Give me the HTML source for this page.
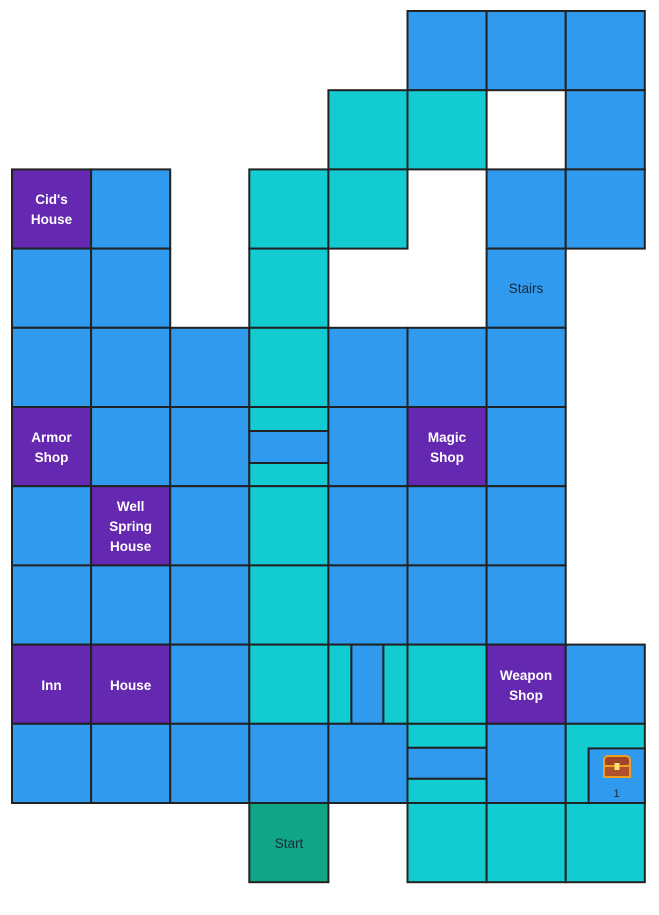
<!DOCTYPE html>
<html><head><meta charset="utf-8"><style>
html,body{margin:0;padding:0;background:#fff;width:659px;height:915px;overflow:hidden}
svg text{font-family:"Liberation Sans",sans-serif;font-size:13.5px;text-anchor:middle}
.l{fill:#fff;font-weight:bold}
.d{fill:#1a2a3a}
</style></head><body>
<svg width="659" height="915" viewBox="0 0 659 915" xmlns="http://www.w3.org/2000/svg">
<g stroke="#222" stroke-width="2">
<!-- row0 -->
<rect x="407.5" y="11" width="79.1" height="79.2" fill="#2f9aee"/>
<rect x="486.6" y="11" width="79.1" height="79.2" fill="#2f9aee"/>
<rect x="565.7" y="11" width="79.1" height="79.2" fill="#2f9aee"/>
<!-- row1 -->
<rect x="328.4" y="90.2" width="79.1" height="79.2" fill="#13ccd2"/>
<rect x="407.5" y="90.2" width="79.1" height="79.2" fill="#13ccd2"/>
<rect x="565.7" y="90.2" width="79.1" height="79.2" fill="#2f9aee"/>
<!-- row2 -->
<rect x="12" y="169.4" width="79.1" height="79.2" fill="#6528b0"/>
<rect x="91.1" y="169.4" width="79.1" height="79.2" fill="#2f9aee"/>
<rect x="249.3" y="169.4" width="79.1" height="79.2" fill="#13ccd2"/>
<rect x="328.4" y="169.4" width="79.1" height="79.2" fill="#13ccd2"/>
<rect x="486.6" y="169.4" width="79.1" height="79.2" fill="#2f9aee"/>
<rect x="565.7" y="169.4" width="79.1" height="79.2" fill="#2f9aee"/>
<!-- row3 -->
<rect x="12" y="248.6" width="79.1" height="79.2" fill="#2f9aee"/>
<rect x="91.1" y="248.6" width="79.1" height="79.2" fill="#2f9aee"/>
<rect x="249.3" y="248.6" width="79.1" height="79.2" fill="#13ccd2"/>
<rect x="486.6" y="248.6" width="79.1" height="79.2" fill="#2f9aee"/>
<!-- row4 -->
<rect x="12" y="327.8" width="79.1" height="79.2" fill="#2f9aee"/>
<rect x="91.1" y="327.8" width="79.1" height="79.2" fill="#2f9aee"/>
<rect x="170.2" y="327.8" width="79.1" height="79.2" fill="#2f9aee"/>
<rect x="249.3" y="327.8" width="79.1" height="79.2" fill="#13ccd2"/>
<rect x="328.4" y="327.8" width="79.1" height="79.2" fill="#2f9aee"/>
<rect x="407.5" y="327.8" width="79.1" height="79.2" fill="#2f9aee"/>
<rect x="486.6" y="327.8" width="79.1" height="79.2" fill="#2f9aee"/>
<!-- row5 -->
<rect x="12" y="407" width="79.1" height="79.2" fill="#6528b0"/>
<rect x="91.1" y="407" width="79.1" height="79.2" fill="#2f9aee"/>
<rect x="170.2" y="407" width="79.1" height="79.2" fill="#2f9aee"/>
<rect x="249.3" y="407" width="79.1" height="24" fill="#13ccd2"/>
<rect x="249.3" y="431" width="79.1" height="32" fill="#2f9aee"/>
<rect x="249.3" y="463" width="79.1" height="23.2" fill="#13ccd2"/>
<rect x="328.4" y="407" width="79.1" height="79.2" fill="#2f9aee"/>
<rect x="407.5" y="407" width="79.1" height="79.2" fill="#6528b0"/>
<rect x="486.6" y="407" width="79.1" height="79.2" fill="#2f9aee"/>
<!-- row6 -->
<rect x="12" y="486.2" width="79.1" height="79.2" fill="#2f9aee"/>
<rect x="91.1" y="486.2" width="79.1" height="79.2" fill="#6528b0"/>
<rect x="170.2" y="486.2" width="79.1" height="79.2" fill="#2f9aee"/>
<rect x="249.3" y="486.2" width="79.1" height="79.2" fill="#13ccd2"/>
<rect x="328.4" y="486.2" width="79.1" height="79.2" fill="#2f9aee"/>
<rect x="407.5" y="486.2" width="79.1" height="79.2" fill="#2f9aee"/>
<rect x="486.6" y="486.2" width="79.1" height="79.2" fill="#2f9aee"/>
<!-- row7 -->
<rect x="12" y="565.4" width="79.1" height="79.2" fill="#2f9aee"/>
<rect x="91.1" y="565.4" width="79.1" height="79.2" fill="#2f9aee"/>
<rect x="170.2" y="565.4" width="79.1" height="79.2" fill="#2f9aee"/>
<rect x="249.3" y="565.4" width="79.1" height="79.2" fill="#13ccd2"/>
<rect x="328.4" y="565.4" width="79.1" height="79.2" fill="#2f9aee"/>
<rect x="407.5" y="565.4" width="79.1" height="79.2" fill="#2f9aee"/>
<rect x="486.6" y="565.4" width="79.1" height="79.2" fill="#2f9aee"/>
<!-- row8 -->
<rect x="12" y="644.6" width="79.1" height="79.2" fill="#6528b0"/>
<rect x="91.1" y="644.6" width="79.1" height="79.2" fill="#6528b0"/>
<rect x="170.2" y="644.6" width="79.1" height="79.2" fill="#2f9aee"/>
<rect x="249.3" y="644.6" width="79.1" height="79.2" fill="#13ccd2"/>
<rect x="328.4" y="644.6" width="23" height="79.2" fill="#13ccd2"/>
<rect x="351.4" y="644.6" width="32" height="79.2" fill="#2f9aee"/>
<rect x="383.4" y="644.6" width="24.1" height="79.2" fill="#13ccd2"/>
<rect x="407.5" y="644.6" width="79.1" height="79.2" fill="#13ccd2"/>
<rect x="486.6" y="644.6" width="79.1" height="79.2" fill="#6528b0"/>
<rect x="565.7" y="644.6" width="79.1" height="79.2" fill="#2f9aee"/>
<!-- row9 -->
<rect x="12" y="723.8" width="79.1" height="79.2" fill="#2f9aee"/>
<rect x="91.1" y="723.8" width="79.1" height="79.2" fill="#2f9aee"/>
<rect x="170.2" y="723.8" width="79.1" height="79.2" fill="#2f9aee"/>
<rect x="249.3" y="723.8" width="79.1" height="79.2" fill="#2f9aee"/>
<rect x="328.4" y="723.8" width="79.1" height="79.2" fill="#2f9aee"/>
<rect x="407.5" y="723.8" width="79.1" height="24" fill="#13ccd2"/>
<rect x="407.5" y="747.8" width="79.1" height="31" fill="#2f9aee"/>
<rect x="407.5" y="778.8" width="79.1" height="24.2" fill="#13ccd2"/>
<rect x="486.6" y="723.8" width="79.1" height="79.2" fill="#2f9aee"/>
<rect x="565.7" y="723.8" width="79.1" height="79.2" fill="#13ccd2"/>
<rect x="588.6" y="748.4" width="56.2" height="54.6" fill="#2f9aee"/>
<!-- row10 -->
<rect x="249.3" y="803" width="79.1" height="79.2" fill="#10a585"/>
<rect x="407.5" y="803" width="79.1" height="79.2" fill="#13ccd2"/>
<rect x="486.6" y="803" width="79.1" height="79.2" fill="#13ccd2"/>
<rect x="565.7" y="803" width="79.1" height="79.2" fill="#13ccd2"/>
</g>
<!-- chest -->
<g>
<rect x="604" y="756" width="26" height="11" rx="4" fill="#a0442a" stroke="#f0a020" stroke-width="2"/>
<rect x="604" y="766" width="26" height="11" fill="#b0502e" stroke="#f0a020" stroke-width="2"/>
<rect x="614.5" y="763" width="5" height="7" fill="#ffe070"/>
</g>
<text class="d" x="616.5" y="797" style="font-size:11px">1</text>
<text class="l" x="51.5" y="204">Cid's</text>
<text class="l" x="51.5" y="224">House</text>
<text class="d" x="526" y="293">Stairs</text>
<text class="l" x="51.5" y="442">Armor</text>
<text class="l" x="51.5" y="462">Shop</text>
<text class="l" x="447" y="442">Magic</text>
<text class="l" x="447" y="462">Shop</text>
<text class="l" x="130.6" y="511">Well</text>
<text class="l" x="130.6" y="531">Spring</text>
<text class="l" x="130.6" y="551">House</text>
<text class="l" x="51.5" y="690">Inn</text>
<text class="l" x="130.6" y="690">House</text>
<text class="l" x="526" y="680">Weapon</text>
<text class="l" x="526" y="700">Shop</text>
<text class="d" x="289" y="848">Start</text>
</svg>
</body></html>
